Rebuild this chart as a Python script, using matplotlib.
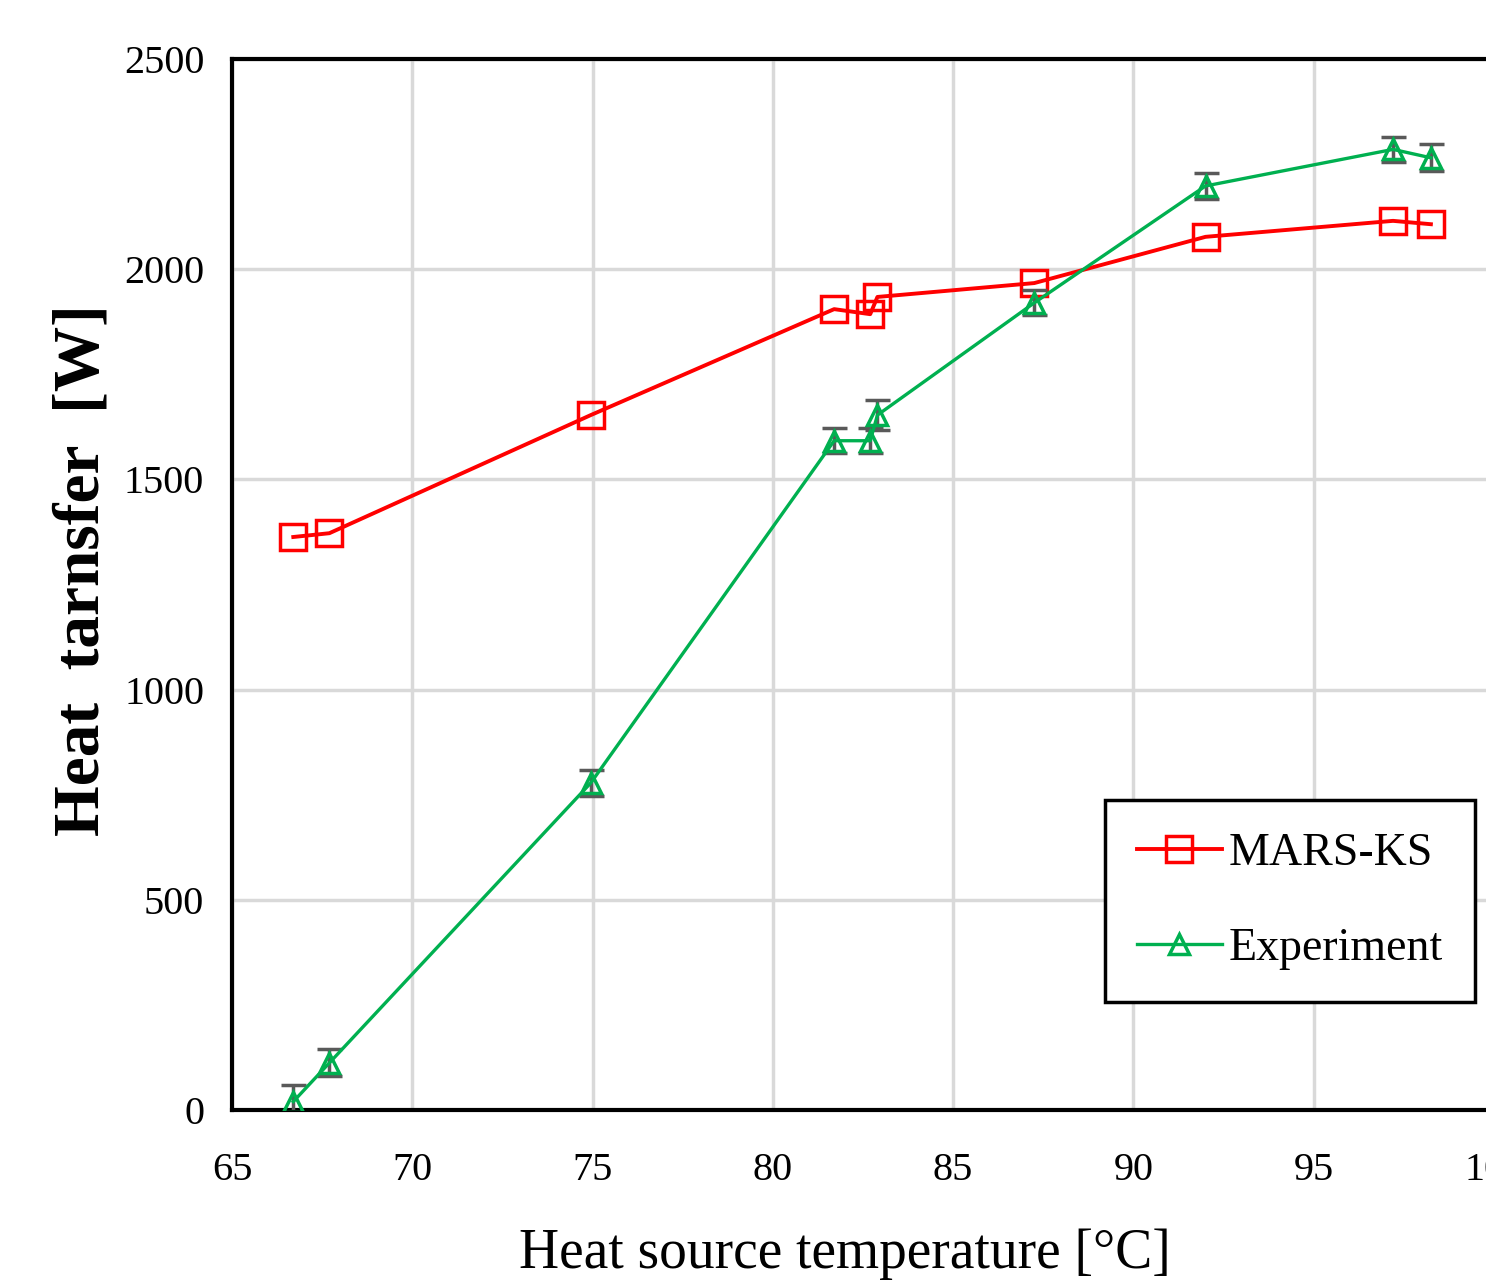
import matplotlib
matplotlib.use("Agg")
import matplotlib.pyplot as plt

# heat source temperature [C]
temp_mars = [66.7, 67.7, 74.95, 81.7, 82.7, 82.9, 87.25, 92.0, 97.2, 98.25]
heat_mars = [1363, 1372, 1653, 1905, 1893, 1934, 1967, 2077, 2115, 2107]

temp_exp = [66.7, 67.7, 74.95, 81.7, 82.7, 82.9, 87.25, 92.0, 97.2, 98.25]
heat_exp = [20, 112, 778, 1592, 1592, 1653, 1920, 2198, 2285, 2265]
err_exp = [40, 32, 30, 30, 30, 35, 30, 32, 30, 32]

plt.rcParams['font.family'] = ['Liberation Serif', 'DejaVu Serif']

fig = plt.figure(figsize=(14.86, 12.88), dpi=100)
ax = fig.add_axes([232 / 1486, 178 / 1288, 1262 / 1486, 1051 / 1288])

ax.plot(temp_mars, heat_mars, color='#ff0000', lw=2.8, marker='s', ms=19,
        mfc='none', mec='#ff0000', mew=2.5, label='MARS-KS', zorder=3)
ax.errorbar(temp_exp, heat_exp, yerr=err_exp, fmt='none', ecolor='#595959',
            elinewidth=2.5, capsize=9, capthick=2.5, zorder=4)
ax.plot(temp_exp, heat_exp, color='#00b050', lw=2.4, marker='^', ms=15,
        mfc='none', mec='#00b050', mew=2.5, label='Experiment', zorder=5)

ax.set_xlim(65, 100)
ax.set_ylim(0, 2500)
ax.set_xticks(range(65, 101, 5))
ax.set_yticks(range(0, 2501, 500))
ax.grid(True, color='#d9d9d9', lw=2.5)
ax.set_axisbelow(True)
for s in ax.spines.values():
    s.set_linewidth(3)
    s.set_color('black')
ax.tick_params(length=0, labelsize=29)
ax.tick_params(axis='x', pad=30)
ax.tick_params(axis='y', pad=20)

ax.set_xlabel('Heat source temperature [\u00b0C]', fontsize=40, labelpad=28)
ax.xaxis.label.set_x(0.486)
ax.set_ylabel('Heat  tarnsfer  [W]', fontsize=47, fontweight='bold', labelpad=8)
ax.yaxis.label.set_y(0.514)

leg = ax.legend(loc='upper left', bbox_to_anchor=(1105 / 1486, 1 - 800 / 1288),
                bbox_transform=fig.transFigure, fontsize=33, borderaxespad=0,
                fancybox=False, edgecolor='black', framealpha=1, borderpad=0.7,
                labelspacing=1.15, handlelength=1.85, handletextpad=0.15,
                markerscale=0.95)
leg.get_frame().set_linewidth(2.5)

fig.savefig('out.png', dpi=100)
